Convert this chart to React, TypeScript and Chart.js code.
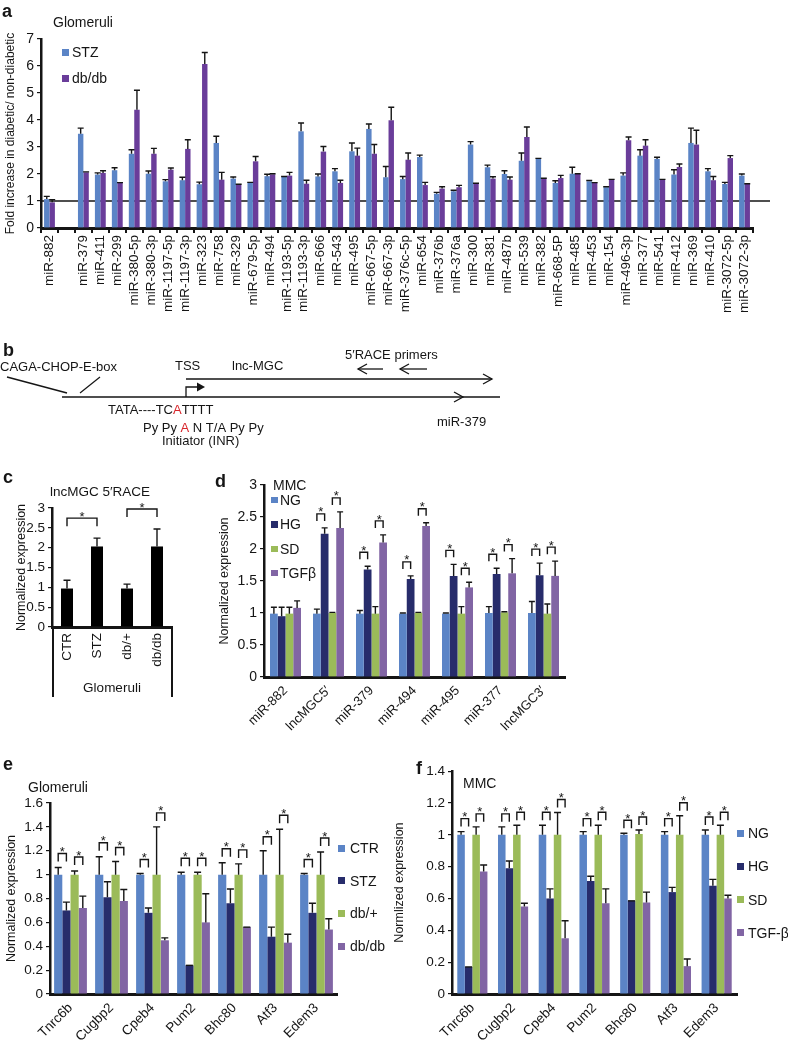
import React, { useEffect, useRef } from 'react';
import { Chart, registerables } from 'chart.js';

Chart.register(...registerables);

const FONT = '"Liberation Sans", Arial, Helvetica, sans-serif';
Chart.defaults.font.family = FONT;
Chart.defaults.color = '#111';

const BLUE = '#5B84C6';
const NAVY = '#272C6B';
const GREEN = '#9BBB59';
const LILAC = '#8165A4';
const PURPLE = '#6A3D9A';
const INK = '#151515';
const RED = '#D8262B';

// ---------------- Panel a ----------------
const aCategories = ['miR-882', '', 'miR-379', 'miR-411', 'miR-299', 'miR-380-5p', 'miR-380-3p', 'miR-1197-5p', 'miR-1197-3p', 'miR-323', 'miR-758', 'miR-329', 'miR-679-5p', 'miR-494', 'miR-1193-5p', 'miR-1193-3p', 'miR-666', 'miR-543', 'miR-495', 'miR-667-5p', 'miR-667-3p', 'miR-376c-5p', 'miR-654', 'miR-376b', 'miR-376a', 'miR-300', 'miR-381', 'miR-487b', 'miR-539', 'miR-382', 'miR-668-5P', 'miR-485', 'miR-453', 'miR-154', 'miR-496-3p', 'miR-377', 'miR-541', 'miR-412', 'miR-369', 'miR-410', 'miR-3072-5p', 'miR-3072-3p'];
const aSeries = ['STZ', 'db/db'];
const aSTZ = [1.07, null, 3.49, 1.98, 2.14, 2.75, 2.01, 1.73, 1.77, 1.62, 3.15, 1.83, 1.67, 1.92, 1.89, 3.58, 1.91, 2.10, 2.84, 3.67, 1.88, 1.81, 2.63, 1.27, 1.36, 3.09, 2.25, 2.00, 2.49, 2.56, 1.67, 2.01, 1.73, 1.51, 1.94, 2.68, 2.56, 1.98, 3.15, 2.10, 1.63, 1.94];
const aSTZErr = [0.10, null, 0.21, 0.06, 0.09, 0.15, 0.10, 0.06, 0.11, 0.08, 0.25, 0.06, 0.02, 0.07, 0.02, 0.31, 0.09, 0.10, 0.31, 0.18, 0.40, 0.10, 0.07, 0.05, 0.04, 0.11, 0.08, 0.12, 0.29, 0.02, 0.08, 0.24, 0.03, 0.02, 0.10, 0.22, 0.06, 0.18, 0.55, 0.10, 0.06, 0.06];
const aDb = [0.95, null, 2.06, 2.04, 1.67, 4.38, 2.75, 2.16, 2.93, 6.07, 1.79, 1.60, 2.47, 1.99, 1.94, 1.64, 2.83, 1.67, 2.68, 2.75, 3.99, 2.53, 1.59, 1.46, 1.51, 1.64, 1.83, 1.79, 3.37, 1.83, 1.85, 2.00, 1.67, 1.79, 3.25, 3.05, 1.79, 2.26, 3.09, 1.77, 2.59, 1.63];
const aDbErr = [0.10, null, 0.02, 0.08, 0.01, 0.72, 0.20, 0.06, 0.34, 0.43, 0.27, 0.02, 0.18, 0.02, 0.12, 0.13, 0.19, 0.10, 0.28, 0.34, 0.48, 0.25, 0.10, 0.07, 0.07, 0.02, 0.07, 0.10, 0.37, 0.01, 0.10, 0.01, 0.01, 0.01, 0.12, 0.22, 0.01, 0.11, 0.53, 0.14, 0.09, 0.01];
const aRefValue = 1;

// ---------------- Panel b (diagram) ----------------
const bLines = [
  [[7, 37], [67, 53]],
  [[80, 53], [100, 37]],
  [[62, 57], [500, 57]],
  [[186, 39], [492, 39]],
  [[186, 57], [186, 47], [199, 47]],
  [[358, 29], [383, 29]],
  [[400, 29], [427, 29]],
];
const bArrowHeads = [
  { x: 492, y: 39, dir: 1, filled: false },
  { x: 463, y: 57, dir: 1, filled: false },
  { x: 358, y: 29, dir: -1, filled: false },
  { x: 400, y: 29, dir: -1, filled: false },
  { x: 205, y: 47, dir: 1, filled: true },
];
const bTexts = [
  { x: 0, y: 27, parts: [['CAGA-CHOP-E-box', INK]] },
  { x: 175, y: 26, parts: [['TSS', INK]] },
  { x: 232, y: 26, parts: [['lnc-MGC', INK]] },
  { x: 345, y: 15, parts: [['5′RACE primers', INK]] },
  { x: 108, y: 70, parts: [['TATA----TC', INK], ['A', RED], ['TTTT', INK]] },
  { x: 437, y: 82, parts: [['miR-379', INK]] },
  { x: 143, y: 88, parts: [['Py Py ', INK], ['A', RED], [' N T/A Py Py', INK]] },
  { x: 162, y: 101, parts: [['Initiator (INR)', INK]] },
];

// ---------------- Panel c ----------------
const cCategories = ['CTR', 'STZ', 'db/+', 'db/db'];
const cValues = [0.97, 2.03, 0.97, 2.03];
const cErr = [0.21, 0.21, 0.11, 0.44];
const cSigPairs = [[0, 1], [2, 3]];
const cGroupLabel = 'Glomeruli';

// ---------------- Panel d ----------------
const dCategories = ['miR-882', 'lncMGC5′', 'miR-379', 'miR-494', 'miR-495', 'miR-377', 'lncMGC3′'];
const dSeries = ['NG', 'HG', 'SD', 'TGFβ'];
const dNG = [0.99, 0.99, 0.99, 0.99, 0.99, 1.0, 1.0];
const dNGErr = [0.10, 0.07, 0.05, 0.01, 0.01, 0.10, 0.18];
const dHG = [0.95, 2.24, 1.68, 1.53, 1.58, 1.61, 1.59];
const dHGErr = [0.14, 0.09, 0.05, 0.05, 0.18, 0.09, 0.19];
const dSD = [0.99, 1.0, 0.99, 1.0, 0.99, 1.01, 0.99];
const dSDErr = [0.10, 0.01, 0.11, 0.01, 0.11, 0.01, 0.15];
const dTGF = [1.08, 2.33, 2.10, 2.36, 1.40, 1.62, 1.58];
const dTGFErr = [0.11, 0.25, 0.12, 0.05, 0.08, 0.23, 0.23];
const dSig = [[0, 0], [1, 1], [1, 1], [1, 1], [1, 1], [1, 1], [1, 1]];

// ---------------- Panel e ----------------
const eCategories = ['Tnrc6b', 'Cugbp2', 'Cpeb4', 'Pum2', 'Bhc80', 'Atf3', 'Edem3'];
const eSeries = ['CTR', 'STZ', 'db/+', 'db/db'];
const eCTR = [1.0, 1.0, 1.0, 1.0, 1.0, 1.0, 1.0];
const eCTRErr = [0.06, 0.15, 0.01, 0.02, 0.10, 0.20, 0.01];
const eSTZ = [0.70, 0.81, 0.68, 0.24, 0.76, 0.48, 0.68];
const eSTZErr = [0.07, 0.13, 0.04, 0.0, 0.12, 0.08, 0.08];
const eDbPlus = [1.0, 1.0, 1.0, 1.0, 1.0, 1.0, 1.0];
const eDbPlusErr = [0.03, 0.11, 0.40, 0.02, 0.09, 0.38, 0.19];
const eDbDb = [0.72, 0.78, 0.45, 0.60, 0.56, 0.43, 0.54];
const eDbDbErr = [0.10, 0.095, 0.02, 0.24, 0.0, 0.07, 0.09];
const eSig = [[1, 1], [1, 1], [1, 1], [1, 1], [1, 1], [1, 1], [1, 1]];

// ---------------- Panel f ----------------
const fCategories = ['Tnrc6b', 'Cugbp2', 'Cpeb4', 'Pum2', 'Bhc80', 'Atf3', 'Edem3'];
const fSeries = ['NG', 'HG', 'SD', 'TGF-β'];
const fNG = [1.0, 1.0, 1.0, 1.0, 1.0, 1.0, 1.0];
const fNGErr = [0.02, 0.05, 0.06, 0.02, 0.01, 0.02, 0.03];
const fHG = [0.17, 0.79, 0.60, 0.71, 0.585, 0.64, 0.68];
const fHGErr = [0.0, 0.045, 0.06, 0.03, 0.0, 0.03, 0.04];
const fSD = [1.0, 1.0, 1.0, 1.0, 1.005, 1.0, 1.0];
const fSDErr = [0.05, 0.06, 0.14, 0.06, 0.025, 0.12, 0.06];
const fTGF = [0.77, 0.55, 0.35, 0.57, 0.575, 0.175, 0.60];
const fTGFErr = [0.04, 0.02, 0.11, 0.09, 0.065, 0.045, 0.02];
const fSig = [[1, 1], [1, 1], [1, 1], [1, 1], [1, 1], [1, 1], [1, 1]];

const fourColors = [BLUE, NAVY, GREEN, LILAC];

// ---------------- helpers ----------------
const fmt = (v: any) => String(+Number(v).toFixed(2));

function errorBarsPlugin(errs: (number | null)[][], cap: number, lw: number) {
  return {
    id: 'errorBars',
    afterDatasetsDraw(chart: any) {
      const { ctx } = chart;
      const ys = chart.scales.y;
      ctx.save();
      ctx.strokeStyle = INK;
      ctx.lineWidth = lw;
      errs.forEach((arr, di) => {
        const meta = chart.getDatasetMeta(di);
        meta.data.forEach((bar: any, j: number) => {
          const v = chart.data.datasets[di].data[j];
          const e = arr[j];
          if (v == null || e == null) return;
          const top = ys.getPixelForValue(v + e);
          const x = bar.x;
          ctx.beginPath();
          ctx.moveTo(x, bar.y);
          ctx.lineTo(x, top);
          ctx.moveTo(x - cap, top);
          ctx.lineTo(x + cap, top);
          ctx.stroke();
        });
      });
      ctx.restore();
    },
  };
}

function sigPlugin(pairs: number[][], errs: (number | null)[][], gap: number, leg: number, starSize: number) {
  return {
    id: 'sigBrackets',
    afterDatasetsDraw(chart: any) {
      const { ctx } = chart;
      const ys = chart.scales.y;
      ctx.save();
      ctx.strokeStyle = INK;
      ctx.fillStyle = INK;
      ctx.lineWidth = 1.4;
      ctx.font = `${starSize}px ${FONT}`;
      ctx.textAlign = 'center';
      ctx.textBaseline = 'alphabetic';
      pairs.forEach(([da, ia, db, ib]) => {
        const A = chart.getDatasetMeta(da).data[ia];
        const B = chart.getDatasetMeta(db).data[ib];
        const va = chart.data.datasets[da].data[ia] + (errs[da][ia] || 0);
        const vb = chart.data.datasets[db].data[ib] + (errs[db][ib] || 0);
        const yTop = Math.min(ys.getPixelForValue(va), ys.getPixelForValue(vb)) - gap;
        const x1 = A.x;
        const x2 = B.x;
        ctx.beginPath();
        ctx.moveTo(x1, yTop + leg);
        ctx.lineTo(x1, yTop);
        ctx.lineTo(x2, yTop);
        ctx.lineTo(x2, yTop + leg);
        ctx.stroke();
        ctx.fillText('*', (x1 + x2) / 2, yTop + starSize * 0.2);
      });
      ctx.restore();
    },
  };
}

function groupPairs(sig: number[][]) {
  const out: number[][] = [];
  sig.forEach((s, j) => {
    if (s[0]) out.push([0, j, 1, j]);
    if (s[1]) out.push([2, j, 3, j]);
  });
  return out;
}

function yAxis(o: any) {
  return {
    min: 0,
    max: o.max,
    ticks: { stepSize: o.step, font: { size: o.tickSize }, color: INK, padding: 3, callback: fmt },
    grid: { display: true, drawOnChartArea: false, drawTicks: true, tickLength: 4, color: INK, lineWidth: 1.2 },
    border: { display: true, color: INK, width: 2.5 },
    title: {
      display: !!o.title,
      text: o.title,
      font: { size: o.titleSize },
      color: INK,
      padding: { top: o.titlePad, bottom: 0 },
    },
    afterFit: (s: any) => {
      s.width = o.width;
    },
  };
}

function xAxis(o: any) {
  return {
    ticks: {
      font: { size: o.size },
      color: INK,
      minRotation: o.rot,
      maxRotation: o.rot,
      autoSkip: false,
      padding: o.pad,
    },
    grid: o.gridTicks
      ? { display: true, drawOnChartArea: false, drawTicks: true, tickLength: 5, color: INK, lineWidth: 2, offset: true }
      : { display: false, drawTicks: false },
    border: { display: true, color: INK, width: 3 },
    afterFit: (s: any) => {
      s.height = o.height;
    },
  };
}

function ChartBox({ left, top, width, height, make }: any) {
  const ref = useRef<HTMLCanvasElement | null>(null);
  useEffect(() => {
    const chart = new Chart(ref.current as HTMLCanvasElement, make());
    return () => chart.destroy();
  }, []);
  return (
    <canvas
      ref={ref}
      width={width}
      height={height}
      style={{ position: 'absolute', left, top, width, height }}
    />
  );
}

function Txt({ x, y, text, size = 14, bold = false, center = false }: any) {
  return (
    <div
      style={{
        position: 'absolute',
        left: x,
        top: y - size * 0.5,
        fontFamily: FONT,
        fontSize: size,
        fontWeight: bold ? 'bold' : 'normal',
        lineHeight: 1,
        whiteSpace: 'nowrap',
        color: INK,
        transform: center ? 'translateX(-50%)' : undefined,
      }}
    >
      {text}
    </div>
  );
}

function Legend({ names, colors, x, y, gap, box, textDx, size }: any) {
  return (
    <>
      {names.map((n: string, i: number) => (
        <React.Fragment key={n}>
          <div
            style={{
              position: 'absolute',
              left: x,
              top: y + i * gap - box / 2,
              width: box,
              height: box,
              background: colors[i],
            }}
          />
          <Txt x={x + textDx} y={y + i * gap} text={n} size={size} />
        </React.Fragment>
      ))}
    </>
  );
}

const baseOpts = {
  responsive: false,
  animation: false as const,
  devicePixelRatio: 1,
  events: [] as any[],
};

function groupedBar(o: any) {
  const errs = o.errors;
  return {
    type: 'bar',
    data: {
      labels: o.labels,
      datasets: o.values.map((v: any, i: number) => ({
        label: o.series[i],
        data: v,
        backgroundColor: o.colors[i],
        borderWidth: 0,
        categoryPercentage: o.catPct,
        barPercentage: 1,
      })),
    },
    options: {
      ...baseOpts,
      layout: { padding: o.padding },
      plugins: { legend: { display: false }, tooltip: { enabled: false } },
      scales: { x: o.x, y: o.y },
    },
    plugins: [
      ...(o.before || []),
      errorBarsPlugin(errs, o.cap, 1.4),
      ...(o.sig ? [sigPlugin(o.sig, errs, o.gap, o.leg, 13)] : []),
    ],
  };
}

// ---------------- chart builders ----------------
const refLinePlugin = {
  id: 'refLine',
  beforeDatasetsDraw(chart: any) {
    const { ctx, chartArea } = chart;
    const y = chart.scales.y.getPixelForValue(aRefValue);
    ctx.save();
    ctx.strokeStyle = INK;
    ctx.lineWidth = 1.3;
    ctx.beginPath();
    ctx.moveTo(chartArea.left, y);
    ctx.lineTo(chartArea.right + 17, y);
    ctx.stroke();
    ctx.restore();
  },
};

const makeA = () =>
  groupedBar({
    labels: aCategories,
    series: aSeries,
    colors: [BLUE, PURPLE],
    values: [aSTZ, aDb],
    errors: [aSTZErr, aDbErr],
    catPct: 0.64,
    cap: 3,
    padding: { top: 39, right: 35, left: 0, bottom: 0 },
    x: xAxis({ size: 13.5, rot: 90, pad: 2, height: 107, gridTicks: true }),
    y: yAxis({ max: 7, step: 1, tickSize: 14, width: 41, title: 'Fold increase in diabetic/ non-diabetic', titleSize: 12, titlePad: 3 }),
    before: [refLinePlugin],
  });

const bPlugin = {
  id: 'bDiagram',
  afterDatasetsDraw(chart: any) {
    const { ctx } = chart;
    const xs = chart.scales.x;
    const ys = chart.scales.y;
    const px = (v: number) => xs.getPixelForValue(v);
    const py = (v: number) => ys.getPixelForValue(v);
    ctx.save();
    ctx.strokeStyle = INK;
    ctx.fillStyle = INK;
    ctx.lineWidth = 1.3;
    bArrowHeads.forEach((a) => {
      const x = px(a.x);
      const y = py(a.y);
      if (a.filled) {
        ctx.beginPath();
        ctx.moveTo(x, y);
        ctx.lineTo(x - 8 * a.dir, y - 4.5);
        ctx.lineTo(x - 8 * a.dir, y + 4.5);
        ctx.closePath();
        ctx.fill();
      } else {
        ctx.beginPath();
        ctx.moveTo(x - 9 * a.dir, y - 5);
        ctx.lineTo(x, y);
        ctx.lineTo(x - 9 * a.dir, y + 5);
        ctx.stroke();
      }
    });
    ctx.font = `13px ${FONT}`;
    ctx.textBaseline = 'middle';
    ctx.textAlign = 'left';
    bTexts.forEach((t) => {
      let cx = px(t.x);
      const cy = py(t.y);
      t.parts.forEach(([s, c]) => {
        ctx.fillStyle = c;
        ctx.fillText(s, cx, cy);
        cx += ctx.measureText(s).width;
      });
    });
    ctx.restore();
  },
};

const makeB = () => ({
  type: 'scatter',
  data: {
    datasets: bLines.map((pts) => ({
      data: pts.map(([x, y]) => ({ x, y })),
      showLine: true,
      borderColor: INK,
      borderWidth: 1.3,
      pointRadius: 0,
      fill: false,
    })),
  },
  options: {
    ...baseOpts,
    layout: { padding: 0 },
    plugins: { legend: { display: false }, tooltip: { enabled: false } },
    scales: {
      x: { type: 'linear', min: 0, max: 520, display: false },
      y: { type: 'linear', min: 0, max: 120, reverse: true, display: false },
    },
  },
  plugins: [bPlugin],
});

const cGroupPlugin = {
  id: 'cGroup',
  afterDraw(chart: any) {
    const { ctx, chartArea } = chart;
    const { left, right, bottom } = chartArea;
    ctx.save();
    ctx.strokeStyle = INK;
    ctx.lineWidth = 2;
    ctx.beginPath();
    ctx.moveTo(left + 1, bottom);
    ctx.lineTo(left + 1, bottom + 70);
    ctx.moveTo(right, bottom);
    ctx.lineTo(right, bottom + 70);
    ctx.stroke();
    ctx.fillStyle = INK;
    ctx.font = `13.5px ${FONT}`;
    ctx.textAlign = 'center';
    ctx.textBaseline = 'middle';
    ctx.fillText(cGroupLabel, (left + right) / 2, bottom + 61);
    ctx.restore();
  },
};

const makeC = () => ({
  type: 'bar',
  data: {
    labels: cCategories,
    datasets: [
      { data: cValues, backgroundColor: '#000', borderWidth: 0, barPercentage: 0.4, categoryPercentage: 1 },
    ],
  },
  options: {
    ...baseOpts,
    layout: { padding: { top: 18, right: 28, left: 0, bottom: 0 } },
    plugins: { legend: { display: false }, tooltip: { enabled: false } },
    scales: {
      x: xAxis({ size: 13.5, rot: 90, pad: 6, height: 88, gridTicks: false }),
      y: yAxis({ max: 3, step: 0.5, tickSize: 13.5, width: 52, title: 'Normalized expression', titleSize: 12.5, titlePad: 14 }),
    },
  },
  plugins: [
    errorBarsPlugin([cErr], 3.5, 1.4),
    sigPlugin(cSigPairs.map(([a, b]) => [0, a, 0, b]), [cErr], 20, 8, 13),
    cGroupPlugin,
  ],
});

const makeD = () =>
  groupedBar({
    labels: dCategories,
    series: dSeries,
    colors: fourColors,
    values: [dNG, dHG, dSD, dTGF],
    errors: [dNGErr, dHGErr, dSDErr, dTGFErr],
    catPct: 0.72,
    cap: 3,
    sig: groupPairs(dSig),
    gap: 14,
    leg: 7,
    padding: { top: 15, right: 15, left: 0, bottom: 0 },
    x: xAxis({ size: 13, rot: 45, pad: 6, height: 63, gridTicks: false }),
    y: yAxis({ max: 3, step: 0.5, tickSize: 14, width: 64, title: 'Normalized expression', titleSize: 12.5, titlePad: 17 }),
  });

const makeE = () =>
  groupedBar({
    labels: eCategories,
    series: eSeries,
    colors: fourColors,
    values: [eCTR, eSTZ, eDbPlus, eDbDb],
    errors: [eCTRErr, eSTZErr, eDbPlusErr, eDbDbErr],
    catPct: 0.8,
    cap: 3.5,
    sig: groupPairs(eSig),
    gap: 14,
    leg: 8,
    padding: { top: 33, right: 8, left: 0, bottom: 0 },
    x: xAxis({ size: 13.5, rot: 45, pad: 6, height: 46, gridTicks: false }),
    y: yAxis({ max: 1.6, step: 0.2, tickSize: 13.5, width: 50, title: 'Normalized expression', titleSize: 12.5, titlePad: 4 }),
  });

const makeF = () =>
  groupedBar({
    labels: fCategories,
    series: fSeries,
    colors: fourColors,
    values: [fNG, fHG, fSD, fTGF],
    errors: [fNGErr, fHGErr, fSDErr, fTGFErr],
    catPct: 0.74,
    cap: 3.5,
    sig: groupPairs(fSig),
    gap: 13,
    leg: 8,
    padding: { top: 9, right: 13, left: 0, bottom: 0 },
    x: xAxis({ size: 13.5, rot: 45, pad: 6, height: 46, gridTicks: false }),
    y: yAxis({ max: 1.4, step: 0.2, tickSize: 13.5, width: 62, title: 'Normlized expression', titleSize: 12.5, titlePad: 2.5 }),
  });

export default function App() {
  return (
    <div style={{ position: 'absolute', left: 0, top: 0, width: 788, height: 1040, background: '#fff', overflow: 'hidden' }}>
      <ChartBox left={0} top={0} width={788} height={335} make={makeA} />
      <ChartBox left={0} top={340} width={520} height={120} make={makeB} />
      <ChartBox left={0} top={490} width={200} height={225} make={makeC} />
      <ChartBox left={200} top={470} width={380} height={270} make={makeD} />
      <ChartBox left={0} top={770} width={345} height={270} make={makeE} />
      <ChartBox left={390} top={760} width={360} height={280} make={makeF} />

      <Txt x={2} y={11} text="a" size={18} bold />
      <Txt x={53} y={22} text="Glomeruli" size={14} />
      <Legend names={aSeries} colors={[BLUE, PURPLE]} x={62} y={52} gap={26} box={7} textDx={10} size={14} />

      <Txt x={3} y={350} text="b" size={18} bold />

      <Txt x={3} y={477} text="c" size={18} bold />
      <Txt x={100} y={492} text="lncMGC 5′RACE" size={13.5} center />

      <Txt x={215} y={481} text="d" size={18} bold />
      <Txt x={273} y={485} text="MMC" size={14} />
      <Legend names={dSeries} colors={fourColors} x={271} y={500} gap={24.4} box={6.5} textDx={9} size={14} />

      <Txt x={3} y={764} text="e" size={18} bold />
      <Txt x={28} y={787} text="Glomeruli" size={14} />
      <Legend names={eSeries} colors={fourColors} x={338} y={848} gap={32.7} box={7} textDx={12} size={14} />

      <Txt x={416} y={768} text="f" size={18} bold />
      <Txt x={463} y={783} text="MMC" size={14} />
      <Legend names={fSeries} colors={fourColors} x={737} y={833} gap={33.3} box={7} textDx={11} size={14} />
    </div>
  );
}
